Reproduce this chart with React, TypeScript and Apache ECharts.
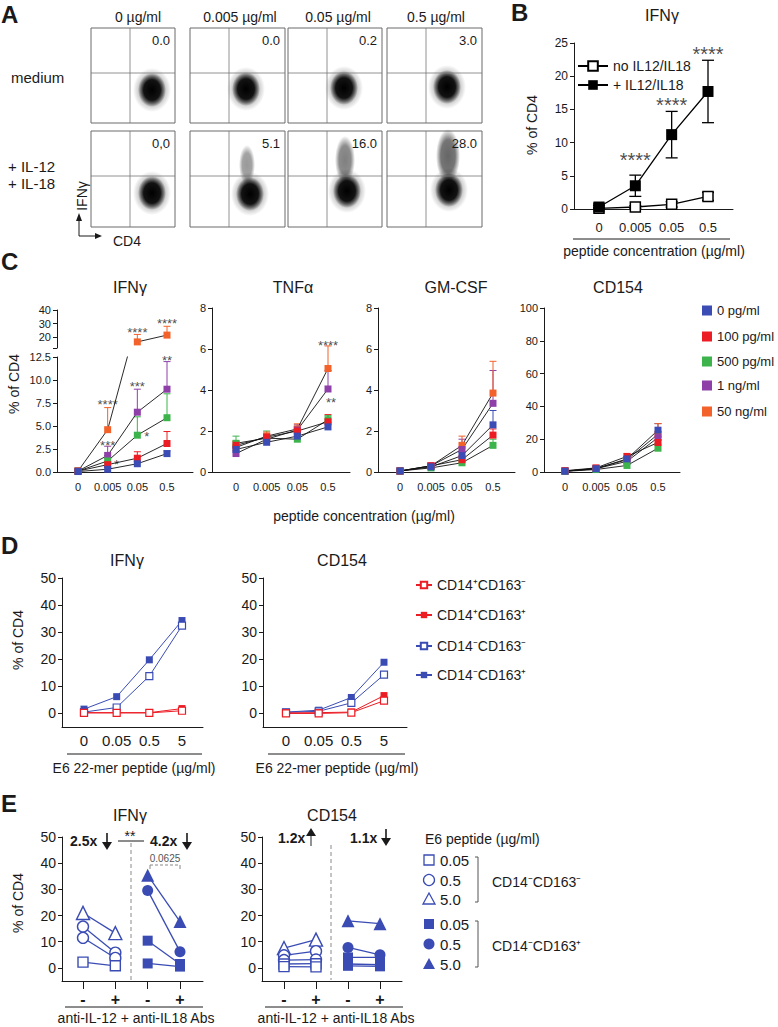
import React, { useEffect, useRef } from "react";
import * as echarts from "echarts";

const FONT = "'Liberation Sans', Arial, Helvetica, sans-serif";
const INK = "#1a1a1a";

// ---------------- Panel A (flow cytometry dot plots) ----------------
const aConcentrations = ["0 µg/ml", "0.005 µg/ml", "0.05 µg/ml", "0.5 µg/ml"];
const aMediumPct = ["0.0", "0.0", "0.2", "3.0"];
const aCytokinePct = ["0,0", "5.1", "16.0", "28.0"];

// ---------------- Panel B ----------------
const bCategories = ["0", "0.005", "0.05", "0.5"];
const bYTicks = [0, 5, 10, 15, 20, 25];
const bSeriesNames = ["no IL12/IL18", "+ IL12/IL18"];
const bNoIL = [0.1, 0.3, 0.7, 1.9];
const bNoILErr = [0.1, 0.2, 0.4, 0.6];
const bIL = [0.3, 3.5, 11.2, 17.7];
const bILErr = [0.2, 1.6, 3.5, 4.7];
const bStars: [number, number, string][] = [[1, 8.0, "****"], [2, 16.4, "****"], [3, 24.0, "****"]];

// ---------------- Panel C ----------------
const cCategories = ["0", "0.005", "0.05", "0.5"];
const cDoses = ["0 pg/ml", "100 pg/ml", "500 pg/ml", "1 ng/ml", "50 ng/ml"];
const cIfngLowTicks = [0, 2.5, 5, 7.5, 10, 12.5];
const cIfngHighTicks = [20, 30, 40];
const cSmallTicks = [0, 2, 4, 6, 8];
const cCd154Ticks = [0, 20, 40, 60, 80, 100];
const cIfng = [
  [0.05, 0.3, 0.9, 2.0],
  [0.1, 0.8, 1.5, 3.1],
  [0.1, 1.2, 4.0, 5.9],
  [0.1, 1.8, 6.5, 9.0],
  [0.1, 4.6, 16.5, 21.5],
];
const cIfngErr = [
  [0.1, 0.2, 0.2, 0.3],
  [0.1, 0.3, 0.7, 1.3],
  [0.1, 0.6, 2.0, 2.6],
  [0.1, 1.0, 2.5, 3.0],
  [0.2, 2.4, 5.5, 6.5],
];
const cTnf = [
  [1.1, 1.45, 1.75, 2.2],
  [1.3, 1.7, 2.0, 2.45],
  [1.4, 1.65, 1.6, 2.55],
  [0.9, 1.6, 2.05, 4.05],
  [1.2, 1.75, 2.1, 5.05],
];
const cTnfErr = [
  [0.2, 0.1, 0.15, 0.2],
  [0.2, 0.15, 0.2, 0.35],
  [0.35, 0.35, 0.2, 0.2],
  [0.3, 0.2, 0.25, 0.9],
  [0.3, 0.2, 0.25, 1.1],
];
const cGm = [
  [0.05, 0.25, 0.8, 2.3],
  [0.05, 0.3, 0.6, 1.8],
  [0.05, 0.2, 0.45, 1.3],
  [0.05, 0.3, 1.1, 3.35],
  [0.05, 0.3, 1.3, 3.85],
];
const cGmErr = [
  [0.05, 0.05, 0.2, 0.7],
  [0.05, 0.05, 0.2, 0.3],
  [0.05, 0.05, 0.1, 0.3],
  [0.05, 0.1, 0.5, 1.6],
  [0.05, 0.1, 0.45, 1.55],
];
const cCd154 = [
  [0.5, 2.0, 8.0, 25.5],
  [0.8, 2.5, 9.5, 18.0],
  [0.4, 1.5, 4.0, 14.5],
  [0.5, 2.0, 6.5, 21.0],
  [0.6, 2.2, 7.5, 23.0],
];
const cCd154Err = [
  [0.3, 0.5, 1.5, 4.0],
  [0.3, 0.5, 1.5, 3.5],
  [0.2, 0.4, 1.0, 2.5],
  [0.3, 0.5, 1.5, 3.5],
  [0.3, 0.5, 1.5, 6.5],
];
const cIfngStarsLow: [number, number, string][] = [
  [1, 7.6, "****"], [1, 3.2, "***"], [1.3, 1.1, "*"], [2, 9.6, "***"], [2.32, 4.2, "*"], [3, 12.4, "**"],
];
const cIfngStarsHigh: [number, number, string][] = [[2, 25.3, "****"], [3, 32.1, "****"]];
const cTnfStars: [number, number, string][] = [[3, 6.3, "****"], [3.1, 3.55, "**"]];

// ---------------- Panel D ----------------
const dCategories = ["0", "0.05", "0.5", "5"];
const dYTicks = [0, 10, 20, 30, 40, 50];
const dGroups = ["CD14⁺CD163⁻", "CD14⁺CD163⁺", "CD14⁻CD163⁻", "CD14⁻CD163⁺"];
const dIfng = [
  [0.2, 0.2, 0.2, 1.0],
  [0.3, 0.3, 0.3, 1.8],
  [0.5, 2.2, 13.8, 32.4],
  [1.6, 6.2, 19.8, 34.3],
];
const dCd154 = [
  [0.0, 0.0, 0.3, 4.7],
  [0.2, 0.3, 0.5, 6.6],
  [0.4, 0.8, 3.9, 14.3],
  [0.5, 1.2, 5.9, 18.9],
];

// ---------------- Panel E ----------------
const eCategories = ["-", "+", "-", "+"];
const eYTicks = [0, 10, 20, 30, 40, 50];
const eLegendTitle = "E6 peptide (µg/ml)";
const eLegendDoses = ["0.05", "0.5", "5.0"];
const eLegendGroups = ["CD14⁻CD163⁻", "CD14⁻CD163⁺"];
const eIfngOpen = [[21.0, 13.3], [15.8, 5.8], [11.5, 3.8], [2.2, 0.8]];
const eIfngOpenDose = ["5.0", "0.5", "0.5", "0.05"];
const eIfngFilled = [[35.4, 17.7], [29.6, 6.2], [10.4, 1.5], [1.7, 0.5]];
const eIfngFilledDose = ["5.0", "0.5", "0.05", "0.05"];
const eCd154Open = [[7.6, 10.8], [4.8, 6.4], [3.0, 3.2], [1.5, 1.6], [0.5, 0.4]];
const eCd154OpenDose = ["5.0", "0.5", "0.5", "0.05", "0.05"];
const eCd154Filled = [[18.0, 16.9], [7.8, 5.0], [4.0, 4.0], [1.5, 1.2], [0.8, 0.6]];
const eCd154FilledDose = ["5.0", "0.5", "0.05", "0.05", "0.05"];
const eFold = ["2.5x", "4.2x", "1.2x", "1.1x"];
const ePValue = "0.0625";

// ---------------- styles ----------------
const C_COLORS = ["#3b4cb4", "#ec1c24", "#3cb44b", "#8e3fa8", "#f2622a"];
const RED = "#ec1c24";
const BLUE = "#3a4cb4";
const D_STYLE = [
  { color: RED, filled: false },
  { color: RED, filled: true },
  { color: BLUE, filled: false },
  { color: BLUE, filled: true },
];
const DOSE_SYMBOL: Record<string, string> = { "0.05": "rect", "0.5": "circle", "5.0": "triangle" };

type Frame = { xL: number; xR: number; top: number; bottom: number; c0: number; c3: number };

function buildOption() {
  const grid: any[] = [];
  const xAxis: any[] = [];
  const yAxis: any[] = [];
  const series: any[] = [];
  const g: any[] = [];

  const axisText = (size: number) => ({ fontSize: size, color: INK, fontFamily: FONT });

  function plot(f: Frame, cfg: any) {
    const i = grid.length;
    const sp = (f.c3 - f.c0) / 3;
    grid.push({ left: f.xL, top: f.top, width: f.xR - f.xL, height: f.bottom - f.top });
    xAxis.push({
      type: "value",
      gridIndex: i,
      min: -(f.c0 - f.xL) / sp,
      max: 3 + (f.xR - f.c3) / sp,
      show: cfg.xShow !== false,
      axisLine: { show: true, onZero: false, lineStyle: { color: INK, width: 1 } },
      axisTick: { show: !!cfg.xTicks, customValues: [0, 1, 2, 3], length: 8, lineStyle: { color: INK, width: 1 } },
      axisLabel: {
        show: !!cfg.xLabels,
        customValues: [0, 1, 2, 3],
        formatter: (v: number) => (cfg.xLabels ? cfg.xLabels[Math.round(v)] : ""),
        margin: cfg.xMargin ?? 8,
        ...axisText(cfg.xSize ?? 12),
        fontWeight: cfg.xWeight || "normal",
      },
      splitLine: { show: false },
    });
    yAxis.push({
      type: "value",
      gridIndex: i,
      min: cfg.yMin,
      max: cfg.yMax,
      axisLine: { show: true, onZero: false, lineStyle: { color: INK, width: 1 } },
      axisTick: { show: true, customValues: cfg.yTickVals ?? cfg.yTicks, length: 4, lineStyle: { color: INK, width: 1 } },
      axisLabel: {
        show: true,
        customValues: cfg.yTicks,
        formatter: cfg.yFmt ?? ((v: number) => String(v)),
        margin: 6,
        ...axisText(cfg.ySize ?? 12),
      },
      splitLine: { show: false },
    });
    return i;
  }

  function lineSeries(i: number, name: string | undefined, pts: number[][], o: any) {
    series.push({
      type: "line",
      name,
      xAxisIndex: i,
      yAxisIndex: i,
      data: pts,
      symbol: o.symbol ?? "rect",
      symbolSize: o.size ?? 7,
      showSymbol: true,
      clip: true,
      silent: true,
      lineStyle: { color: o.lineColor, width: o.lineWidth ?? 1 },
      itemStyle: { color: o.fill, borderColor: o.border ?? o.fill, borderWidth: o.borderWidth ?? 0 },
      emphasis: { disabled: true },
      z: o.z ?? 3,
    });
  }

  function errorSeries(i: number, rows: number[][], colors: string[], capHalf: number, both: boolean, width = 1) {
    series.push({
      type: "custom",
      xAxisIndex: i,
      yAxisIndex: i,
      clip: true,
      silent: true,
      z: 2,
      data: rows,
      renderItem: (_p: any, api: any) => {
        const x = api.value(0);
        const m = api.value(1);
        const e = api.value(2);
        const col = colors[api.value(3)];
        const top = api.coord([x, m + e]);
        const bot = api.coord([x, both ? m - e : m]);
        const st = { stroke: col, lineWidth: width };
        const children: any[] = [
          { type: "line", shape: { x1: top[0], y1: top[1], x2: bot[0], y2: bot[1] }, style: st },
          { type: "line", shape: { x1: top[0] - capHalf, y1: top[1], x2: top[0] + capHalf, y2: top[1] }, style: st },
        ];
        if (both)
          children.push({ type: "line", shape: { x1: bot[0] - capHalf, y1: bot[1], x2: bot[0] + capHalf, y2: bot[1] }, style: st });
        return { type: "group", children };
      },
    });
  }

  function starSeries(i: number, items: [number, number, string][], fs: number) {
    series.push({
      type: "scatter",
      xAxisIndex: i,
      yAxisIndex: i,
      symbolSize: 1,
      silent: true,
      clip: false,
      z: 6,
      itemStyle: { color: "rgba(0,0,0,0)" },
      data: items.map(([x, y, t]) => ({ value: [x, y], label: { formatter: t } })),
      label: { show: true, position: "inside", color: INK, fontSize: fs, fontFamily: FONT, offset: [0, fs * 0.22] },
    });
  }

  const txt = (text: string, x: number, y: number, size: number, o: any = {}) => ({
    type: "text",
    x,
    y,
    rotation: o.rot ?? 0,
    silent: true,
    z: 10,
    style: {
      text,
      fill: o.color ?? INK,
      fontSize: size,
      fontFamily: FONT,
      fontWeight: o.bold ? "bold" : "normal",
      textAlign: o.align ?? "center",
      textVerticalAlign: "middle",
      align: o.align ?? "center",
      verticalAlign: "middle",
    },
  });
  const ln = (x1: number, y1: number, x2: number, y2: number, o: any = {}) => ({
    type: "line",
    silent: true,
    z: 10,
    shape: { x1, y1, x2, y2 },
    style: { stroke: o.color ?? INK, lineWidth: o.w ?? 1, lineDash: o.dash ?? null },
  });
  const poly = (points: number[][], color = INK) => ({
    type: "polygon",
    silent: true,
    z: 10,
    shape: { points },
    style: { fill: color },
  });

  // ================= Panel A =================
  g.push(txt("A", 1, 14, 24, { bold: true, align: "left" }));
  const boxCols = [[91, 175], [190, 285], [288, 382], [387, 482]];
  const boxRows = [[28, 123], [131, 227]];
  const headerX = [138, 240, 338, 436];
  aConcentrations.forEach((t, c) => g.push(txt(t, headerX[c], 17, 14)));
  g.push(txt("medium", 11, 77, 15, { align: "left" }));
  g.push(txt("+ IL-12", 8, 166, 15, { align: "left" }));
  g.push(txt("+ IL-18", 8, 183, 15, { align: "left" }));
  const blobCore = [
    [[152, 90], [246, 89], [344, 88], [447, 87]],
    [[152, 193], [250, 194], [347, 191], [449, 190]],
  ];
  const tails = [null, [247, 165, 8, 20, 0.4], [345, 160, 10, 24, 0.5], [448, 156, 12, 27, 0.6]];
  const radial = (a: number) => ({
    type: "radial",
    x: 0.5,
    y: 0.5,
    r: 0.5,
    colorStops: [
      { offset: 0, color: `rgba(0,0,0,${a})` },
      { offset: 0.6, color: `rgba(0,0,0,${a * 0.9})` },
      { offset: 1, color: "rgba(0,0,0,0)" },
    ],
  });
  boxRows.forEach(([y0, y1], r) => {
    boxCols.forEach(([x0, x1], c) => {
      g.push({ type: "rect", silent: true, z: 8, shape: { x: x0, y: y0, width: x1 - x0, height: y1 - y0 }, style: { fill: "none", stroke: "#6a6a6a", lineWidth: 1 } });
      g.push(ln(x0 + 39, y0, x0 + 39, y1, { color: "#777", w: 0.8 }));
      g.push(ln(x0, y0 + 45, x1, y0 + 45, { color: "#777", w: 0.8 }));
      const [cx, cy] = blobCore[r][c];
      g.push({ type: "ellipse", silent: true, z: 9, shape: { cx, cy, rx: 19, ry: 22 }, style: { fill: radial(0.3) } });
      if (r === 1 && tails[c]) {
        const [tx, ty, trx, tr, a] = tails[c] as number[];
        g.push({ type: "ellipse", silent: true, z: 9, shape: { cx: tx, cy: ty, rx: trx, ry: tr }, style: { fill: radial(a) } });
      }
      g.push({ type: "ellipse", silent: true, z: 9, shape: { cx, cy, rx: 14, ry: 17 }, style: { fill: radial(1) } });
      g.push(txt(r === 0 ? aMediumPct[c] : aCytokinePct[c], x1 - 5, y0 + 12, 13, { align: "right" }));
    });
  });
  g.push(txt("IFNγ", 82, 196, 14, { rot: Math.PI / 2 }));
  g.push(ln(79, 236, 79, 219));
  g.push(poly([[79, 213], [76, 221], [82, 221]]));
  g.push(ln(79, 236, 96, 236));
  g.push(poly([[102, 236], [95, 233], [95, 239]]));
  g.push(txt("CD4", 113, 241, 14, { align: "left" }));

  // ================= Panel B =================
  g.push(txt("B", 511, 12, 24, { bold: true, align: "left" }));
  g.push(txt("IFNγ", 662, 15, 16));
  g.push(txt("% of CD4", 532, 125, 14, { rot: Math.PI / 2 }));
  g.push(ln(573, 239, 730, 239));
  g.push(txt("peptide concentration (µg/ml)", 654, 251, 14));
  const bi = plot(
    { xL: 574, xR: 733, top: 43, bottom: 209, c0: 599, c3: 708 },
    { yMin: 0, yMax: 25, yTicks: bYTicks, xLabels: bCategories, xSize: 13, xMargin: 12, ySize: 12 }
  );
  errorSeries(bi, bNoIL.map((m, k) => [k, m, bNoILErr[k], 0]), ["#000"], 6, true, 1.3);
  errorSeries(bi, bIL.map((m, k) => [k, m, bILErr[k], 0]), ["#000"], 6, true, 1.3);
  lineSeries(bi, bSeriesNames[0], bNoIL.map((v, k) => [k, v]), { fill: "#fff", border: "#000", borderWidth: 1.5, lineColor: "#000", size: 10, lineWidth: 1.3 });
  lineSeries(bi, bSeriesNames[1], bIL.map((v, k) => [k, v]), { fill: "#000", lineColor: "#000", size: 11, lineWidth: 1.3, z: 4 });
  starSeries(bi, bStars, 20);

  // ================= Panel C =================
  g.push(txt("C", 1, 261, 24, { bold: true, align: "left" }));
  g.push(txt("% of CD4", 14, 384, 14, { rot: Math.PI / 2 }));
  g.push(txt("peptide concentration (µg/ml)", 364, 516, 14));
  const cTitles = [["IFNγ", 130], ["TNFα", 293], ["GM-CSF", 456], ["CD154", 618]];
  cTitles.forEach(([t, x]) => g.push(txt(t as string, x as number, 287, 16)));

  const cCommon = { xLabels: cCategories, xSize: 11, xMargin: 9, ySize: 11 };
  const cPlots = [
    { f: { xL: 57, xR: 193, top: 357, bottom: 472, c0: 78, c3: 167 }, vals: cIfng, errs: cIfngErr, cfg: { yMin: 0, yMax: 12.5, yTicks: cIfngLowTicks, yFmt: (v: number) => v.toFixed(1) }, stars: cIfngStarsLow },
    { f: { xL: 212, xR: 350, top: 308, bottom: 472, c0: 236, c3: 328 }, vals: cTnf, errs: cTnfErr, cfg: { yMin: 0, yMax: 8, yTicks: cSmallTicks }, stars: cTnfStars },
    { f: { xL: 378, xR: 515, top: 308, bottom: 472, c0: 400, c3: 493 }, vals: cGm, errs: cGmErr, cfg: { yMin: 0, yMax: 8, yTicks: cSmallTicks }, stars: [] as [number, number, string][] },
    { f: { xL: 544, xR: 680, top: 308, bottom: 472, c0: 565, c3: 658 }, vals: cCd154, errs: cCd154Err, cfg: { yMin: 0, yMax: 100, yTicks: cCd154Ticks }, stars: [] as [number, number, string][] },
  ];
  cPlots.forEach((p) => {
    const i = plot(p.f, { ...cCommon, ...p.cfg });
    const rows: number[][] = [];
    p.vals.forEach((arr, d) => arr.forEach((m, k) => rows.push([k, m, p.errs[d][k], d])));
    errorSeries(i, rows, C_COLORS, 3.5, false, 1);
    for (let d = p.vals.length - 1; d >= 0; d--) {
      lineSeries(i, cDoses[d], p.vals[d].map((v, k) => [k, v]), { fill: C_COLORS[d], lineColor: "#111", size: 7, lineWidth: 0.9 });
    }
    if (p.stars.length) starSeries(i, p.stars, 13);
  });
  // IFNγ upper segment of broken axis
  const lowMax = 12.5;
  const upMin = 12;
  const ui = plot(
    { xL: 57, xR: 193, top: 310, bottom: 348, c0: 78, c3: 167 },
    { xShow: false, yMin: upMin, yMax: 40, yTicks: cIfngHighTicks, yTickVals: [upMin, ...cIfngHighTicks], ySize: 11 }
  );
  const hiPts = cIfng[4].map((v, k) => [k, v]).filter((pt) => pt[1] > lowMax);
  errorSeries(ui, hiPts.map((pt) => [pt[0], pt[1], cIfngErr[4][pt[0]], 4]), C_COLORS, 3.5, false, 1);
  lineSeries(ui, cDoses[4], hiPts, { fill: C_COLORS[4], lineColor: "#111", size: 7, lineWidth: 0.9 });
  starSeries(ui, cIfngStarsHigh, 13);

  // ================= Panel D =================
  g.push(txt("D", 1, 545, 24, { bold: true, align: "left" }));
  g.push(txt("% of CD4", 18, 640, 14, { rot: Math.PI / 2 }));
  g.push(txt("IFNγ", 127, 560, 16));
  g.push(txt("CD154", 342, 560, 16));
  g.push(ln(67, 754, 202, 754));
  g.push(ln(268, 754, 405, 754));
  g.push(txt("E6 22-mer peptide (µg/ml)", 134, 768, 14));
  g.push(txt("E6 22-mer peptide (µg/ml)", 337, 768, 14));
  const dFrames = [
    { f: { xL: 62, xR: 203, top: 578, bottom: 727, c0: 84, c3: 182 }, vals: dIfng },
    { f: { xL: 263, xR: 407, top: 578, bottom: 727, c0: 286, c3: 384 }, vals: dCd154 },
  ];
  dFrames.forEach((p) => {
    const i = plot(p.f, { yMin: -5, yMax: 50, yTicks: dYTicks, xLabels: dCategories, xSize: 15, xMargin: 6, ySize: 14 });
    for (let s = 3; s >= 0; s--) {
      const st = D_STYLE[s];
      lineSeries(i, dGroups[s], p.vals[s].map((v, k) => [k, v]), {
        fill: st.filled ? st.color : "#fff",
        border: st.color,
        borderWidth: st.filled ? 0 : 1.2,
        lineColor: st.color,
        size: 7,
        lineWidth: 1,
      });
    }
  });

  // ================= Panel E =================
  g.push(txt("E", 1, 803, 24, { bold: true, align: "left" }));
  g.push(txt("% of CD4", 18, 903, 14, { rot: Math.PI / 2 }));
  g.push(txt("IFNγ", 130, 815, 16));
  g.push(txt("CD154", 332, 815, 16));
  g.push(ln(65, 1007, 203, 1007));
  g.push(ln(265, 1007, 403, 1007));
  g.push(txt("anti-IL-12 + anti-IL18 Abs", 136, 1018, 14));
  g.push(txt("anti-IL-12 + anti-IL18 Abs", 336, 1018, 14));
  g.push(ln(131, 843, 131, 980, { color: "#8a8a8a", dash: [4, 3] }));
  g.push(ln(331, 845, 331, 980, { color: "#8a8a8a", dash: [4, 3] }));
  const downArrow = (x: number, y0: number, y1: number) => {
    g.push(ln(x, y0, x, y1 - 6, { w: 1.6 }));
    g.push(poly([[x - 5, y1 - 8], [x + 5, y1 - 8], [x, y1]]));
  };
  const upArrow = (x: number, y0: number, y1: number) => {
    g.push(ln(x, y1, x, y0 + 6, { w: 1.6, color: "#777" }));
    g.push(poly([[x - 5, y0 + 8], [x + 5, y0 + 8], [x, y0]]));
  };
  g.push(txt(eFold[0], 70, 841, 14, { bold: true, align: "left" }));
  downArrow(107, 833, 850);
  g.push(txt("**", 130, 836, 14));
  g.push(ln(118, 841, 144, 841));
  g.push(txt(eFold[1], 150, 841, 14, { bold: true, align: "left" }));
  downArrow(187, 833, 850);
  g.push(txt(ePValue, 165, 858, 10, { color: "#555" }));
  g.push(ln(150, 865, 180, 865, { color: "#888", dash: [3, 2] }));
  g.push(ln(150, 865, 150, 869, { color: "#888" }));
  g.push(ln(180, 865, 180, 869, { color: "#888" }));
  g.push(txt(eFold[2], 278, 838, 14, { bold: true, align: "left" }));
  upArrow(311, 828, 846);
  g.push(txt(eFold[3], 350, 838, 14, { bold: true, align: "left" }));
  downArrow(386, 829, 846);

  const eFrames = [
    { f: { xL: 62, xR: 203, top: 837, bottom: 981, c0: 83, c3: 180 }, open: eIfngOpen, openDose: eIfngOpenDose, filled: eIfngFilled, filledDose: eIfngFilledDose },
    { f: { xL: 262, xR: 402, top: 837, bottom: 981, c0: 284, c3: 380 }, open: eCd154Open, openDose: eCd154OpenDose, filled: eCd154Filled, filledDose: eCd154FilledDose },
  ];
  eFrames.forEach((p) => {
    const i = plot(p.f, { yMin: -5, yMax: 50, yTicks: eYTicks, xLabels: eCategories, xTicks: true, xSize: 16, xWeight: "bold", xMargin: 10, ySize: 14 });
    const group = (vals: number[][], doses: string[], xStart: number, filled: boolean) =>
      vals.forEach((pair, k) => {
        const sym = DOSE_SYMBOL[doses[k]];
        lineSeries(i, undefined, pair.map((v, j) => [xStart + j, v]), {
          symbol: sym,
          size: sym === "triangle" ? 13 : sym === "circle" ? 11 : 10,
          fill: filled ? BLUE : "#fff",
          border: BLUE,
          borderWidth: filled ? 0 : 1.4,
          lineColor: BLUE,
          lineWidth: 1.3,
        });
      });
    group(p.open, p.openDose, 0, false);
    group(p.filled, p.filledDose, 2, true);
  });

  // E legend (graphic)
  g.push(txt(eLegendTitle, 425, 839, 14, { align: "left" }));
  const eRows = [[860, 880, 899], [924, 944, 964]];
  eRows.forEach((ys, gi) => {
    const filled = gi === 1;
    const st = { fill: filled ? BLUE : "#fff", stroke: BLUE, lineWidth: filled ? 0 : 1.3 };
    ys.forEach((y, k) => {
      const sym = DOSE_SYMBOL[eLegendDoses[k]];
      if (sym === "rect") g.push({ type: "rect", silent: true, z: 10, shape: { x: 424, y: y - 5, width: 10, height: 10 }, style: st });
      else if (sym === "circle") g.push({ type: "circle", silent: true, z: 10, shape: { cx: 429, cy: y, r: 5.5 }, style: st });
      else g.push({ type: "polygon", silent: true, z: 10, shape: { points: [[429, y - 6], [423, y + 5], [435, y + 5]] }, style: st });
      g.push(txt(eLegendDoses[k], 440, y, 15, { align: "left" }));
    });
    const yTop = ys[0] - 3;
    const yBot = ys[2] + 3;
    g.push(ln(478, yTop, 478, yBot, { color: "#555" }));
    g.push(ln(475, yTop, 478, yTop, { color: "#555" }));
    g.push(ln(475, yBot, 478, yBot, { color: "#555" }));
    g.push(txt(eLegendGroups[gi], 492, ys[1] + 2, 14, { align: "left" }));
  });

  // Legends: one component per row so that every row sits at its own height
  const legendText = (size: number) => ({ fontSize: size, color: INK, fontFamily: FONT });
  const legends: any[] = [];
  const bRowY = [67, 86];
  bSeriesNames.forEach((n, k) =>
    legends.push({ data: [n], left: 577, top: bRowY[k] - 8, itemWidth: 30, itemHeight: 12, padding: 0, selectedMode: false, textStyle: legendText(14) })
  );
  const cRowY = [311, 337, 362, 386, 412];
  cDoses.forEach((n, k) =>
    legends.push({ data: [n], left: 702, top: cRowY[k] - 7, icon: "rect", itemWidth: 10, itemHeight: 10, padding: 0, selectedMode: false, textStyle: legendText(13) })
  );
  const dRowY = [586, 616, 647, 676];
  dGroups.forEach((n, k) =>
    legends.push({ data: [n], left: 415, top: dRowY[k] - 8, itemWidth: 16, itemHeight: 8, padding: 0, selectedMode: false, textStyle: legendText(14) })
  );

  return {
    animation: false,
    backgroundColor: "#fff",
    grid,
    xAxis,
    yAxis,
    series,
    legend: legends,
    graphic: { elements: g },
  };
}

export default function App() {
  const ref = useRef<HTMLDivElement>(null);
  useEffect(() => {
    if (!ref.current) return;
    const chart = echarts.init(ref.current, undefined, { renderer: "svg" });
    chart.setOption(buildOption() as any);
    return () => chart.dispose();
  }, []);
  return (
    <div
      ref={ref}
      style={{ position: "absolute", left: 0, top: 0, width: 778, height: 1027, background: "#fff" }}
    />
  );
}
